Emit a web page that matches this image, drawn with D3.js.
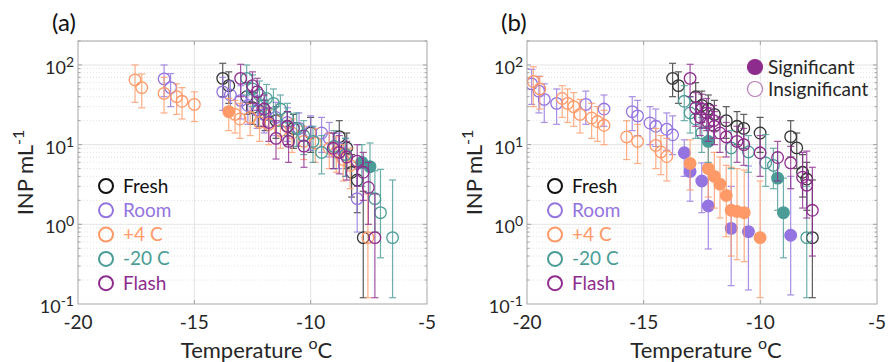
<!DOCTYPE html>
<html>
<head>
<meta charset="utf-8">
<script src="https://cdn.jsdelivr.net/npm/d3@7"></script>
<style>
  body { margin: 0; background: #fff; }
  svg { font-family: Lato, "Open Sans", sans-serif; }
</style>
</head>
<body>
<svg id="chart" width="891" height="362"></svg>
<script>
// series names and colours
const seriesNames = ["Fresh", "Room", "+4 C", "-20 C", "Flash"];
const seriesColors = ["#333333", "#9474e0", "#ff9a68", "#4b9c97", "#8e2c8e"];

const xTicks = [-20, -15, -10, -5];
const yTicks = [0.1, 1, 10, 100];
const yTickExp = ["-1", "0", "1", "2"];

// rows: [temperature, INP, lower, upper, significant]
const freshA = [
  [-13.78, 68, 40, 105], [-13.52, 55, 33, 82], [-12.75, 40, 24, 60], [-12.50, 29, 18, 45],
  [-12.25, 27, 17, 40], [-11.96, 24, 15, 36], [-11.49, 20, 12, 30], [-11.00, 17, 10, 26],
  [-10.74, 16, 9, 24], [-10.00, 14, 8, 22], [-8.77, 12.6, 7, 20], [-8.45, 9.1, 5, 14],
  [-8.24, 4.5, 2.2, 7.5], [-8.00, 3.6, 1.4, 6], [-7.74, 0.68, 0.12, 2.6]
];
const roomA = [
  [-16.30, 67, 40, 100], [-16.02, 52, 30, 78], [-13.78, 46, 27, 70], [-13.45, 42, 25, 63],
  [-13.00, 36, 21, 55], [-12.70, 31, 18, 47], [-12.30, 27, 16, 41], [-12.00, 24, 14, 37],
  [-11.50, 22, 13, 34], [-11.00, 19, 11, 29], [-10.50, 16, 9.5, 25], [-10.00, 14.5, 8.5, 23],
  [-9.53, 14, 8, 22], [-9.20, 12, 7, 19], [-8.80, 9, 5, 14], [-8.50, 7.5, 4, 12],
  [-8.00, 2.1, 0.8, 5]
];
const plus4A = [
  [-17.55, 65, 34, 100], [-17.26, 52, 29, 77], [-16.30, 44, 25, 70], [-15.76, 40, 24, 58],
  [-15.53, 35, 21, 52], [-15.00, 32, 19.5, 46], [-13.52, 26, 15, 38, 1], [-13.25, 24, 14, 36],
  [-13.04, 21, 12, 33], [-12.60, 22, 13, 33], [-12.20, 19, 11, 29], [-11.80, 18, 10, 27],
  [-11.30, 15, 9, 23], [-10.80, 14, 8, 21], [-10.30, 11, 6.5, 17], [-9.80, 10.5, 6, 16],
  [-9.20, 9, 5, 14], [-8.90, 8, 4.5, 12.5], [-8.60, 6.5, 3.5, 10], [-8.30, 5.5, 2.8, 9],
  [-7.54, 0.68, 0.12, 2.4]
];
const minus20A = [
  [-12.75, 68, 42, 100], [-12.50, 50, 30, 75], [-12.20, 42, 26, 63], [-11.90, 38, 23, 57],
  [-11.60, 33, 20, 50], [-11.30, 28, 17, 42], [-11.00, 22, 13, 33], [-10.60, 16, 9.5, 25],
  [-10.30, 13, 7.5, 20], [-9.90, 11, 6, 17], [-9.53, 8, 4.3, 13], [-9.00, 9.5, 5, 15],
  [-8.50, 7.5, 4, 12], [-7.80, 6.0, 3, 10, 1], [-7.45, 5.3, 2.5, 10.5, 1], [-7.24, 2.1, 0.8, 4.7],
  [-7.00, 1.4, 0.38, 4.9], [-6.48, 0.68, 0.12, 3.6]
];
const flashA = [
  [-13.01, 68, 40, 102], [-12.50, 55, 33, 82], [-12.30, 46, 27, 68], [-12.00, 28, 17, 42],
  [-11.80, 19, 11, 29], [-11.49, 12, 6.6, 20], [-11.00, 17, 10, 26], [-10.95, 11, 6, 17],
  [-10.29, 9.6, 5.2, 15], [-9.03, 9, 5, 14], [-8.77, 8, 4.3, 13], [-8.45, 7, 3.6, 11],
  [-8.00, 6.2, 3, 10], [-7.74, 4.5, 2, 8], [-7.52, 2.9, 1, 6], [-7.24, 0.68, 0.12, 2.4]
];

const freshB = [
  [-13.76, 68, 40, 105], [-13.51, 55, 33, 82], [-12.77, 40, 24, 60], [-12.51, 31, 19, 47],
  [-12.23, 28, 17, 42], [-11.97, 24, 15, 36], [-11.46, 20, 12, 30], [-11.00, 17, 10, 26],
  [-10.71, 16, 9, 24], [-10.01, 14, 8, 22], [-8.70, 12.6, 7, 20], [-8.44, 9.1, 5, 14],
  [-8.19, 4.5, 2.2, 7.5], [-8.01, 3.7, 1.5, 6], [-7.77, 0.68, 0.12, 3.6]
];
const roomB = [
  [-19.80, 58, 32, 88], [-19.49, 47, 25, 72], [-19.26, 37, 19, 58], [-18.73, 33, 18, 50],
  [-17.48, 32, 18, 47], [-16.70, 28, 17, 42], [-15.49, 26, 15, 40], [-15.26, 23, 13, 36],
  [-14.73, 18.7, 10, 30], [-14.48, 17, 9.5, 28], [-14.01, 15.6, 8.5, 25], [-13.76, 13.3, 7.5, 23],
  [-13.26, 7.9, 4, 11.5, 1], [-13.01, 4.6, 1.95, 6.5, 1], [-12.51, 3.5, 1.4, 5.9, 1],
  [-12.23, 1.7, 0.49, 4.5, 1], [-11.25, 0.89, 0.17, 3, 1], [-10.51, 0.81, 0.15, 5.4, 1],
  [-8.70, 0.73, 0.13, 4, 1]
];
const plus4B = [
  [-19.73, 62, 30, 95], [-19.45, 50, 28, 72], [-18.49, 38, 22, 55], [-18.26, 33, 19, 50],
  [-18.00, 30, 17, 45], [-17.73, 24, 14, 37], [-17.23, 21.6, 12, 33], [-16.98, 19.5, 11, 30],
  [-16.70, 17.5, 10, 27], [-15.73, 12.5, 6.5, 20], [-15.26, 11, 5.8, 18], [-14.48, 9.8, 5, 16],
  [-14.26, 8.1, 4.2, 13], [-14.01, 7.1, 3.5, 12],
  [-13.01, 5.8, 2.7, 11.5, 1], [-12.23, 5.0, 2.2, 9.5, 1], [-11.97, 4.0, 1.6, 8, 1],
  [-11.73, 3.2, 1.2, 7, 1], [-11.46, 2.3, 0.7, 5.5, 1], [-11.25, 1.5, 0.4, 5.2, 1],
  [-11.00, 1.45, 0.36, 5, 1], [-10.69, 1.4, 0.34, 4.8, 1], [-10.01, 0.68, 0.12, 3.5, 1]
];
const minus20B = [
  [-13.26, 35, 20, 55], [-13.01, 25, 14, 40], [-12.77, 21, 12, 33], [-12.51, 14, 8, 22],
  [-12.23, 11, 6, 17, 1], [-11.25, 9.1, 5, 15], [-10.51, 8.1, 4.5, 13], [-9.77, 5.9, 3, 13.4],
  [-9.44, 5.5, 2.8, 9], [-9.26, 3.8, 1.5, 8, 1], [-9.01, 1.4, 0.38, 3.8, 1], [-8.01, 0.68, 0.12, 3]
];
const flashB = [
  [-13.01, 68, 40, 102], [-12.77, 29, 17, 45], [-12.58, 22, 13, 34], [-12.51, 28, 16, 43],
  [-12.30, 25, 15, 38], [-12.23, 19, 11, 29], [-12.00, 20, 12, 31], [-11.97, 17, 10, 26],
  [-11.73, 14, 8, 22], [-11.46, 12.5, 7, 19], [-11.00, 11, 6, 17], [-10.71, 10, 5.5, 16],
  [-10.01, 7.9, 4, 13], [-9.26, 6.9, 3.5, 11], [-8.70, 5.9, 2.8, 9.5], [-8.19, 3.9, 1.6, 8],
  [-8.01, 3.1, 1.2, 8.3], [-7.77, 1.5, 0.4, 5.2]
];

const panelAData = [freshA, roomA, plus4A, minus20A, flashA];
const panelBData = [freshB, roomB, plus4B, minus20B, flashB];

const svg = d3.select("#chart");
const textColor = "#262626";
const plotTop = 41, plotBottom = 304;

function drawPanel(left, right, data, label) {
  const x = d3.scaleLinear().domain([-20, -5]).range([left, right]);
  const y = d3.scaleLog().domain([0.1, 200]).range([plotBottom, plotTop]);
  const g = svg.append("g");

  const clipId = "clip" + label.replace(/\W/g, "");
  svg.append("clipPath").attr("id", clipId)
    .append("rect").attr("x", left).attr("y", plotTop)
    .attr("width", right - left).attr("height", plotBottom - plotTop);

  // minor grid (dotted) and major grid
  const minors = [];
  [0.1, 1, 10, 100].forEach(d => {
    for (let k = 2; k <= 9; k++) if (d * k <= 200) minors.push(d * k);
  });
  g.selectAll(".minor").data(minors).enter().append("line")
    .attr("x1", left).attr("x2", right)
    .attr("y1", d => y(d)).attr("y2", d => y(d))
    .attr("stroke", "#dcdcdc").attr("stroke-width", 0.8)
    .attr("stroke-dasharray", "1,2");
  g.selectAll(".hmajor").data([1, 10, 100]).enter().append("line")
    .attr("x1", left).attr("x2", right)
    .attr("y1", d => y(d)).attr("y2", d => y(d))
    .attr("stroke", "#e4e4e4").attr("stroke-width", 1);
  g.selectAll(".vmajor").data([-15, -10]).enter().append("line")
    .attr("x1", d => x(d)).attr("x2", d => x(d))
    .attr("y1", plotTop).attr("y2", plotBottom)
    .attr("stroke", "#e4e4e4").attr("stroke-width", 1);

  // ticks on all four sides, pointing inward
  const tk = g.append("g").attr("stroke", "#8c8c8c").attr("stroke-width", 0.8);
  [-15, -10].forEach(t => {
    tk.append("line").attr("x1", x(t)).attr("x2", x(t)).attr("y1", plotBottom).attr("y2", plotBottom - 4);
    tk.append("line").attr("x1", x(t)).attr("x2", x(t)).attr("y1", plotTop).attr("y2", plotTop + 4);
  });
  [1, 10, 100].forEach(t => {
    tk.append("line").attr("x1", left).attr("x2", left + 4).attr("y1", y(t)).attr("y2", y(t));
    tk.append("line").attr("x1", right).attr("x2", right - 4).attr("y1", y(t)).attr("y2", y(t));
  });
  minors.forEach(t => {
    tk.append("line").attr("x1", left).attr("x2", left + 2.5).attr("y1", y(t)).attr("y2", y(t));
    tk.append("line").attr("x1", right).attr("x2", right - 2.5).attr("y1", y(t)).attr("y2", y(t));
  });

  // data: error bars then markers, series by series
  const plot = g.append("g").attr("clip-path", "url(#" + clipId + ")");
  data.forEach((rows, i) => {
    const col = seriesColors[i];
    const sg = plot.append("g");
    const eb = sg.append("g").attr("stroke", col).attr("stroke-width", 1.2).attr("opacity", 0.8);
    eb.selectAll(".v").data(rows).enter().append("line")
      .attr("x1", d => x(d[0])).attr("x2", d => x(d[0]))
      .attr("y1", d => y(d[2])).attr("y2", d => y(d[3]));
    eb.selectAll(".lo").data(rows).enter().append("line")
      .attr("x1", d => x(d[0]) - 3.5).attr("x2", d => x(d[0]) + 3.5)
      .attr("y1", d => y(d[2])).attr("y2", d => y(d[2]));
    eb.selectAll(".hi").data(rows).enter().append("line")
      .attr("x1", d => x(d[0]) - 3.5).attr("x2", d => x(d[0]) + 3.5)
      .attr("y1", d => y(d[3])).attr("y2", d => y(d[3]));
    sg.selectAll("circle").data(rows).enter().append("circle")
      .attr("cx", d => x(d[0])).attr("cy", d => y(d[1]))
      .attr("r", 5.8)
      .attr("fill", d => d[4] ? col : "none")
      .attr("stroke", col).attr("stroke-width", 1.3);
  });

  // frame
  g.append("rect").attr("x", left).attr("y", plotTop)
    .attr("width", right - left).attr("height", plotBottom - plotTop)
    .attr("fill", "none").attr("stroke", "#a6a6a6").attr("stroke-width", 1);

  // x tick labels
  g.selectAll(".xt").data(xTicks).enter().append("text")
    .attr("x", d => x(d)).attr("y", 329)
    .attr("text-anchor", "middle").attr("font-size", 19).attr("fill", textColor)
    .text(d => d);

  // y tick labels as 10^n
  yTicks.forEach((t, k) => {
    const tx = g.append("text")
      .attr("x", left - 4).attr("y", y(t) + 9)
      .attr("text-anchor", "end").attr("font-size", 18).attr("fill", textColor);
    tx.append("tspan").text("10");
    tx.append("tspan").attr("font-size", 14).attr("dy", -7).text(yTickExp[k]);
  });

  // axis labels
  const xl = g.append("text")
    .attr("x", (left + right) / 2 + 4).attr("y", 358)
    .attr("text-anchor", "middle").attr("font-size", 22).attr("fill", textColor);
  xl.append("tspan").text("Temperature ");
  xl.append("tspan").attr("font-size", 16).attr("dy", -9).text("o");
  xl.append("tspan").attr("dy", 9).text("C");

  const yl = g.append("text")
    .attr("transform", "translate(" + (left - 45) + "," + ((plotTop + plotBottom) / 2) + ") rotate(-90)")
    .attr("text-anchor", "middle").attr("font-size", 22).attr("fill", textColor);
  yl.append("tspan").text("INP mL");
  yl.append("tspan").attr("font-size", 16).attr("dy", -9).text("-1");

  // panel label
  g.append("text").attr("x", left - 26).attr("y", 31)
    .attr("font-size", 24).attr("fill", "#111").text(label);

  // series legend
  const lg = g.append("g");
  seriesNames.forEach((name, i) => {
    const ly = 186 + i * 24.3;
    lg.append("circle").attr("cx", left + 28).attr("cy", ly).attr("r", 7)
      .attr("fill", "none").attr("stroke", i === 0 ? "#111" : seriesColors[i]).attr("stroke-width", 2);
    lg.append("text").attr("x", left + 45).attr("y", ly + 6.5)
      .attr("font-size", 19).attr("fill", i === 0 ? "#111" : seriesColors[i]).text(name);
  });

  return { x, y, g };
}

drawPanel(78, 427, panelAData, "(a)");
const pb = drawPanel(527, 877, panelBData, "(b)");

// significance legend on panel (b)
const sigLabels = ["Significant", "Insignificant"];
sigLabels.forEach((name, i) => {
  const ly = 67 + i * 22;
  pb.g.append("circle").attr("cx", 755).attr("cy", ly).attr("r", 7.5)
    .attr("fill", i === 0 ? "#8e2c8e" : "#fff")
    .attr("stroke", i === 0 ? "#8e2c8e" : "#b77ab7").attr("stroke-width", 1.2);
  pb.g.append("text").attr("x", 768).attr("y", ly + 6.5)
    .attr("font-size", 19).attr("fill", textColor).text(name);
});
</script>
</body>
</html>
